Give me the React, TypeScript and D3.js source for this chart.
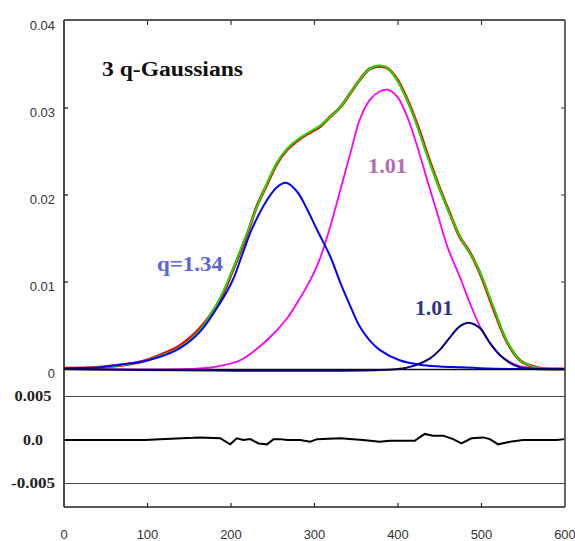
import React from "react";
import * as d3 from "d3";

// ---------- data ----------
const blueX = [0, 43, 67, 91, 115, 139, 163, 187, 202, 214, 226, 243, 255, 266, 279, 291, 303, 319, 331, 343, 354, 366, 378, 402, 426, 450, 474, 498, 540, 600];
const blueY = [0.0001, 0.0002, 0.0005, 0.0008, 0.0014, 0.0024, 0.0043, 0.0076, 0.0102, 0.0133, 0.0163, 0.0194, 0.0209, 0.0214, 0.0204, 0.0184, 0.016, 0.0129, 0.0099, 0.0072, 0.0049, 0.0033, 0.0022, 0.001, 0.0005, 0.0003, 0.0002, 0.0001, 0, 0];

const magX = [0, 150, 178, 211, 243, 267, 283, 298, 307, 319, 331, 343, 354, 366, 378, 387, 399, 411, 423, 435, 447, 459, 474, 486, 498, 510, 522, 534, 546, 570, 600];
const magY = [0, 0, 0.0002, 0.001, 0.0033, 0.0058, 0.0082, 0.0108, 0.0128, 0.0164, 0.0206, 0.0248, 0.0286, 0.0309, 0.0319, 0.0321, 0.0313, 0.029, 0.0256, 0.0217, 0.0179, 0.0141, 0.0106, 0.0076, 0.0049, 0.003, 0.0016, 0.0008, 0.0003, 0.0001, 0];

const navyX = [0, 400, 420, 438, 450, 462, 474, 486, 498, 510, 522, 534, 546, 564, 600];
const navyY = [0, 0, 0.0004, 0.0012, 0.0022, 0.0036, 0.0049, 0.0053, 0.0047, 0.003, 0.0016, 0.0007, 0.0002, 0, 0];

const fitX = [0, 43, 91, 115, 139, 163, 187, 202, 219, 231, 243, 255, 267, 283, 295, 307, 319, 331, 343, 354, 366, 378, 387, 399, 411, 423, 435, 447, 462, 474, 486, 495, 502, 514, 530, 546, 558, 570, 600];
const fitY = [0.0001, 0.0002, 0.0008, 0.0015, 0.0025, 0.0045, 0.0082, 0.0114, 0.0156, 0.0186, 0.0213, 0.0237, 0.0253, 0.0266, 0.0273, 0.028, 0.029, 0.0301, 0.0317, 0.0332, 0.0345, 0.0349, 0.0346, 0.0332, 0.0309, 0.0279, 0.0245, 0.0214, 0.0178, 0.0153, 0.0133, 0.0118, 0.0102, 0.0072, 0.0033, 0.001, 0.0004, 0.0001, 0];

const dataX = [0, 43, 91, 115, 139, 163, 187, 202, 219, 231, 243, 255, 267, 283, 295, 307, 319, 331, 343, 354, 366, 378, 387, 399, 411, 423, 435, 447, 462, 474, 486, 495, 502, 514, 530, 546, 558, 570, 600];
const dataY = [0.0001, 0.0002, 0.0008, 0.0016, 0.0027, 0.0047, 0.008, 0.0113, 0.0154, 0.0187, 0.0212, 0.0236, 0.0252, 0.0265, 0.0272, 0.0279, 0.029, 0.0301, 0.0317, 0.0332, 0.0345, 0.0348, 0.0346, 0.0333, 0.031, 0.0281, 0.0247, 0.0215, 0.0179, 0.0152, 0.0134, 0.0117, 0.0101, 0.007, 0.0032, 0.001, 0.0004, 0.0001, 0];

const resX = [0, 97, 115, 155, 163, 187, 199, 207, 215, 223, 233, 243, 251, 259, 267, 283, 295, 303, 331, 346, 358, 378, 390, 406, 420, 432, 442, 454, 466, 476, 488, 502, 510, 520, 534, 550, 590, 600];
const resY = [0, 0, 0.0001, 0.00025, 0.0003, 0.0002, -0.0005, 0.0002, 0, 0.0001, -0.0004, -0.0005, 0.0001, 0.0001, 0, 0, -0.0002, 0.0001, 0.0002, 0.0001, 0, -0.0002, -0.0001, -0.0001, -0.0001, 0.0007, 0.0005, 0.0005, 0.0001, -0.0004, 0.0002, 0.0003, 0.0001, -0.0005, -0.0002, 0, 0, 0.0001];

const xTicks = [0, 100, 200, 300, 400, 500, 600];
const yTopTicks = [0, 0.01, 0.02, 0.03, 0.04];
const yTopLabels = ["0", "0.01", "0.02", "0.03", "0.04"];
const yResTicks = [0.005, 0.0, -0.005];
const yResLabels = ["0.005", "0.0", "-0.005"];

// ---------- layout ----------
const W = 575, H = 541;
const L = 64, R = 565, TOP = 21, MID = 369, BOT = 507;

const x = d3.scaleLinear().domain([0, 600]).range([L, R]);
const yTop = d3.scaleLinear().domain([0, 0.04]).range([MID, TOP]);
const yRes = d3.scaleLinear().domain([-0.005, 0.005]).range([483.5, 396.5]);

const lineTop = d3.line<[number, number]>().x(d => x(d[0])).y(d => yTop(d[1])).curve(d3.curveCatmullRom.alpha(0.5));
const lineRes = d3.line<[number, number]>().x(d => x(d[0])).y(d => yRes(d[1])).curve(d3.curveLinear);

const zip = (a: number[], b: number[]) => a.map((v, i) => [v, b[i]] as [number, number]);

const sans = "'Liberation Sans', Arial, sans-serif";
const serif = "'Liberation Serif', 'Times New Roman', serif";

export default function App() {
  return (
    <svg width={W} height={H} style={{ position: "absolute", left: 0, top: 0, background: "#fff" }}>
      {/* lower panel grid lines */}
      {[0.005, -0.005].map(v => (
        <line key={v} x1={L} x2={R} y1={yRes(v)} y2={yRes(v)} stroke="#444" strokeWidth={1.2} />
      ))}

      {/* curves */}
      <path d={lineTop(zip(dataX, dataY)) || ""} fill="none" stroke="#ff0000" strokeWidth={3} />
      <path d={lineTop(zip(fitX, fitY)) || ""} fill="none" stroke="#00ee00" strokeWidth={1.8} />
      <path d={lineTop(zip(magX, magY)) || ""} fill="none" stroke="#ff00ff" strokeWidth={1.8} />
      <path d={lineTop(zip(blueX, blueY)) || ""} fill="none" stroke="#0000ff" strokeWidth={2} />
      <path d={lineTop(zip(navyX, navyY)) || ""} fill="none" stroke="#000080" strokeWidth={2} />

      {/* residual */}
      <path d={lineRes(zip(resX, resY)) || ""} fill="none" stroke="#000" strokeWidth={2} />

      {/* frame */}
      <line x1={L} x2={L} y1={TOP - 1} y2={BOT} stroke="#111" strokeWidth={1.5} />
      <line x1={L} x2={R} y1={TOP - 1} y2={TOP - 1} stroke="#555" strokeWidth={2} />
      <line x1={R} x2={R} y1={TOP - 1} y2={BOT} stroke="#666" strokeWidth={2} />
      <line x1={L} x2={R} y1={BOT} y2={BOT} stroke="#222" strokeWidth={1.5} />
      <line x1={L} x2={R} y1={MID + 0.5} y2={MID + 0.5} stroke="#111" strokeWidth={1.5} />

      {/* top-panel y ticks */}
      {yTopTicks.map((t, i) => (
        <g key={"yt" + i}>
          {t > 0 && t < 0.04 && <line x1={L} x2={L + 4} y1={yTop(t)} y2={yTop(t)} stroke="#111" strokeWidth={1.2} />}
          {t > 0 && t < 0.04 && <line x1={R - 4} x2={R} y1={yTop(t)} y2={yTop(t)} stroke="#555" strokeWidth={1.2} />}
          <text x={55} y={yTop(t) + 8.5} textAnchor="end" fontFamily={sans} fontSize={13} fill="#333">{yTopLabels[i]}</text>
        </g>
      ))}

      {/* x ticks */}
      {xTicks.map(t => (
        <g key={"xt" + t}>
          {t > 0 && t < 600 && <line x1={x(t)} x2={x(t)} y1={TOP} y2={TOP + 4} stroke="#333" strokeWidth={1.2} />}
          {t > 0 && t < 600 && <line x1={x(t)} x2={x(t)} y1={BOT} y2={BOT - 4} stroke="#222" strokeWidth={1.2} />}
          <text x={x(t)} y={539} textAnchor="middle" fontFamily={sans} fontSize={13} fill="#333">{t}</text>
        </g>
      ))}

      {/* residual labels */}
      {yResTicks.map((t, i) => (
        <text key={"yr" + i} x={33} y={yRes(t) + 4.5} textAnchor="middle" fontFamily={serif} fontWeight="bold" fontSize={14} fill="#222"
          textLength={[37, 20, 44][i]} lengthAdjust="spacingAndGlyphs">{yResLabels[i]}</text>
      ))}

      {/* annotations */}
      <text x={102} y={76} fontFamily={serif} fontWeight="bold" fontSize={20} fill="#111" textLength={141} lengthAdjust="spacingAndGlyphs">3 q-Gaussians</text>
      <text x={157} y={271} fontFamily={serif} fontWeight="bold" fontSize={20} fill="#5b66d6" textLength={66} lengthAdjust="spacingAndGlyphs">q=1.34</text>
      <text x={368} y={173} fontFamily={serif} fontWeight="bold" fontSize={20} fill="#b06cb0" textLength={39} lengthAdjust="spacingAndGlyphs">1.01</text>
      <text x={415} y={315} fontFamily={serif} fontWeight="bold" fontSize={20} fill="#333388" textLength={38} lengthAdjust="spacingAndGlyphs">1.01</text>
    </svg>
  );
}
